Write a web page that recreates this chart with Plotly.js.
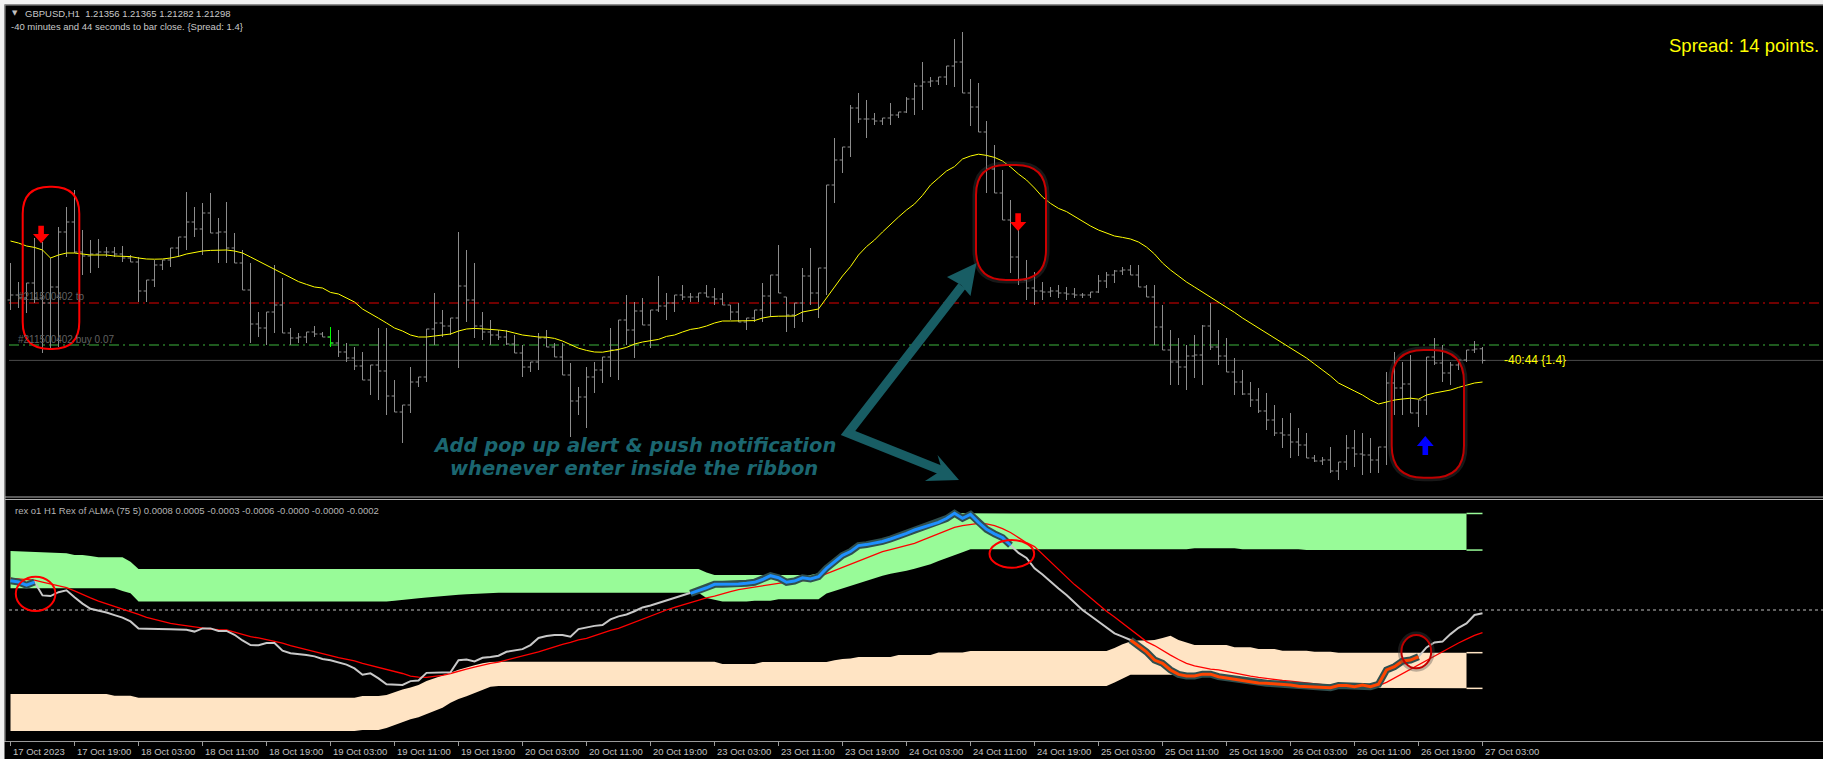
<!DOCTYPE html>
<html><head><meta charset="utf-8">
<script src="https://cdn.plot.ly/plotly-3.0.1.min.js"></script>
<style>html,body{margin:0;padding:0;background:#000;overflow:hidden}#chart{width:1823px;height:759px}</style>
</head><body><div id="chart"></div>
<script>
// ---------------- DATA (GBPUSD H1, 17 Oct 11:00 -> 27 Oct 03:00) ----------------
const open = [
1.2160,1.21625,1.2161,1.21685,1.2161,1.21585,1.21665,1.2194,1.2199,1.2184,
1.2182,1.2183,1.2184,1.2184,1.2183,1.2181,1.2179,1.21645,1.2170,1.21775,
1.2180,1.2186,1.21915,1.2199,1.21955,1.22035,1.21935,1.2194,1.2186,1.21785,
1.2165,1.2148,1.2146,1.2154,1.21575,1.21435,1.2141,1.21415,1.2144,1.2143,
1.21415,1.21385,1.2134,1.2131,1.2127,1.2120,1.21275,1.21245,1.2112,1.2104,
1.21075,1.2119,1.21215,1.21455,1.21485,1.2147,1.2151,1.2167,1.2160,1.2147,
1.2144,1.21425,1.21415,1.2138,1.21335,1.21265,1.2129,1.2141,1.21365,1.21315,
1.21225,1.21095,1.21115,1.21215,1.2125,1.21315,1.2135,1.2150,1.2145,1.21545,
1.21475,1.2155,1.2157,1.21585,1.21625,1.21615,1.21615,1.21635,1.21615,1.21605,
1.21575,1.2154,1.2149,1.2151,1.2155,1.2162,1.21725,1.21615,1.21525,1.21585,
1.2172,1.21635,1.2176,1.22175,1.2230,1.22365,1.2256,1.22505,1.22505,1.22495,
1.2251,1.22525,1.2254,1.22605,1.2267,1.2269,1.22695,1.22715,1.2277,1.2279,
1.22635,1.22565,1.2244,1.22255,1.22135,1.2200,1.21815,1.2170,1.2166,1.21645,
1.2164,1.21645,1.21635,1.2163,1.21625,1.21625,1.2164,1.21695,1.21725,1.21745,
1.2175,1.21725,1.21665,1.21615,1.21465,1.2135,1.2129,1.21265,1.2132,1.21325,
1.2147,1.21365,1.2132,1.2124,1.2119,1.2113,1.2110,1.21045,1.2100,1.20935,
1.20925,1.2089,1.20875,1.2081,1.20795,1.2080,1.20745,1.2079,1.2086,1.2083,
1.20825,1.2080,1.20865,1.21185,1.2116,1.2118,1.21035,1.2110,1.21315,1.21285,
1.21235,1.21275,1.2130,1.2135,1.21356];
const high = [
1.21785,1.2169,1.21685,1.2191,1.2189,1.2181,1.21965,1.22065,1.2215,1.2195,
1.2190,1.21905,1.21865,1.21865,1.2187,1.21825,1.21815,1.2170,1.2180,1.2180,
1.2186,1.21915,1.2214,1.22065,1.22085,1.22135,1.2201,1.2209,1.21935,1.2185,
1.21785,1.2154,1.2154,1.21775,1.2171,1.2146,1.21435,1.2144,1.2147,1.2144,
1.21465,1.2145,1.21385,1.21365,1.2134,1.21275,1.2146,1.2146,1.2120,1.21075,
1.21265,1.21215,1.21455,1.21635,1.2155,1.2151,1.2194,1.2185,1.21785,1.2154,
1.2150,1.2145,1.2145,1.21425,1.21375,1.2129,1.21435,1.2145,1.21385,1.21385,
1.21285,1.21165,1.21265,1.2129,1.21315,1.2146,1.2150,1.21625,1.2159,1.2161,
1.2155,1.2172,1.21635,1.21625,1.21675,1.21635,1.21635,1.21675,1.2166,1.21635,
1.21575,1.21585,1.2151,1.2155,1.21685,1.21725,1.21875,1.21615,1.21585,1.2176,
1.2186,1.2176,1.22175,1.2241,1.22365,1.22575,1.22635,1.2260,1.22535,1.2251,
1.22585,1.2254,1.22615,1.22685,1.2279,1.22715,1.22715,1.2277,1.22905,1.2294,
1.22705,1.22685,1.22495,1.22375,1.2225,1.2210,1.2195,1.2180,1.2174,1.2169,
1.21665,1.21675,1.21665,1.2166,1.21635,1.2164,1.21725,1.2174,1.2175,1.21765,
1.21775,1.21775,1.21675,1.21675,1.21575,1.2145,1.2141,1.21375,1.21425,1.21475,
1.21585,1.2145,1.2141,1.2131,1.2125,1.2119,1.2116,1.21135,1.21075,1.2101,
1.21035,1.2096,1.20935,1.20825,1.20815,1.20865,1.2079,1.20925,1.2095,1.20935,
1.2091,1.20865,1.2124,1.2134,1.2129,1.21325,1.2110,1.21315,1.2141,1.21375,
1.2129,1.2130,1.2135,1.21395,1.21365];
const low = [
1.2155,1.2156,1.21535,1.21585,1.21335,1.2136,1.21365,1.21815,1.21835,1.21725,
1.21735,1.2176,1.21815,1.21815,1.2179,1.2179,1.2159,1.2159,1.21665,1.2175,
1.21765,1.21815,1.2185,1.21915,1.21825,1.21935,1.21785,1.21785,1.21785,1.2165,
1.21385,1.21415,1.21375,1.21435,1.21435,1.21375,1.21385,1.21385,1.21415,1.21415,
1.21365,1.21315,1.2129,1.2125,1.2120,1.21125,1.2110,1.21025,1.2104,1.20885,
1.21035,1.21165,1.2119,1.21375,1.21415,1.21425,1.2126,1.2149,1.2141,1.2140,
1.21375,1.2140,1.21375,1.21335,1.21215,1.2124,1.2125,1.21365,1.21315,1.21225,
1.20915,1.21025,1.2096,1.21135,1.21185,1.21215,1.2120,1.21375,1.2131,1.21475,
1.2136,1.2154,1.2150,1.2154,1.2160,1.2159,1.2159,1.21615,1.21575,1.21575,
1.2150,1.2149,1.2145,1.2149,1.2149,1.21515,1.21635,1.2144,1.2146,1.2149,
1.21575,1.2151,1.21625,1.22085,1.22235,1.22315,1.22485,1.2241,1.22475,1.22475,
1.22475,1.2251,1.22535,1.22525,1.2255,1.22665,1.22675,1.22675,1.22665,1.22635,
1.2247,1.2244,1.22135,1.22135,1.2200,1.21735,1.21675,1.2160,1.21575,1.2160,
1.21615,1.2161,1.2160,1.2161,1.2161,1.2161,1.21635,1.2166,1.21685,1.21725,
1.21725,1.21665,1.21615,1.21375,1.2135,1.21175,1.21175,1.2115,1.2121,1.21175,
1.2135,1.21275,1.2124,1.21125,1.21125,1.21065,1.21035,1.2095,1.2092,1.2086,
1.2081,1.2082,1.2081,1.2079,1.20775,1.20735,1.2070,1.2075,1.20765,1.20725,
1.20735,1.20735,1.20775,1.21025,1.21025,1.21035,1.20965,1.21025,1.21275,1.2119,
1.21175,1.2125,1.2129,1.21335,1.21282];
const close = [
1.21625,1.2161,1.21685,1.2161,1.21585,1.21665,1.2194,1.2199,1.2184,1.2182,
1.2183,1.2184,1.2184,1.2183,1.2181,1.2179,1.21645,1.2170,1.21775,1.2180,
1.2186,1.21915,1.2199,1.21955,1.22035,1.21935,1.2194,1.2186,1.21785,1.2165,
1.2148,1.2146,1.2154,1.21575,1.21435,1.2141,1.21415,1.2144,1.2143,1.21415,
1.21385,1.2134,1.2131,1.2127,1.2120,1.21275,1.21245,1.2112,1.2104,1.21075,
1.2119,1.21215,1.21455,1.21485,1.2147,1.2151,1.2167,1.2160,1.2147,1.2144,
1.21425,1.21415,1.2138,1.21335,1.21265,1.2129,1.2141,1.21365,1.21315,1.21225,
1.21095,1.21115,1.21215,1.2125,1.21315,1.2135,1.2150,1.2145,1.21545,1.21475,
1.2155,1.2157,1.21585,1.21625,1.21615,1.21615,1.21635,1.21615,1.21605,1.21575,
1.2154,1.2149,1.2151,1.2155,1.2162,1.21725,1.21635,1.21525,1.21585,1.2172,
1.21635,1.2176,1.22175,1.2230,1.22365,1.2256,1.22505,1.22505,1.22495,1.2251,
1.22525,1.2254,1.22605,1.2267,1.2269,1.22695,1.22715,1.2277,1.2279,1.22635,
1.22565,1.2244,1.22255,1.22135,1.2200,1.21815,1.2170,1.2166,1.21645,1.2164,
1.21645,1.21635,1.2163,1.21625,1.21625,1.2164,1.21695,1.21725,1.21745,1.2175,
1.21725,1.21665,1.21615,1.21465,1.2135,1.2129,1.21265,1.2132,1.21325,1.2147,
1.21365,1.2132,1.2124,1.2119,1.2113,1.2110,1.21045,1.2100,1.20935,1.20925,
1.2089,1.20875,1.2081,1.20795,1.2080,1.20745,1.2079,1.2086,1.2083,1.20825,
1.2080,1.20865,1.21185,1.2116,1.2118,1.21035,1.2110,1.21315,1.21285,1.21235,
1.21275,1.2130,1.2135,1.21355,1.21298];
// moving average (yellow)
const maLine = [
1.21895,1.21885,1.2187,1.21863,1.2185,1.2181,1.21825,1.21835,1.21835,1.2183,
1.21825,1.21825,1.21825,1.2182,1.2182,1.21817,1.2181,1.21805,1.21804,1.21805,
1.2181,1.21818,1.2183,1.21838,1.21845,1.21848,1.2185,1.2185,1.21845,1.21835,
1.21815,1.21795,1.21775,1.21755,1.21735,1.21713,1.21692,1.21678,1.21665,1.2166,
1.21638,1.2163,1.2161,1.2159,1.21555,1.2153,1.21509,1.21485,1.2146,1.21445,
1.21425,1.21415,1.21415,1.2142,1.21425,1.2143,1.21445,1.21455,1.21458,1.21457,
1.21453,1.2145,1.21445,1.21435,1.21425,1.2142,1.21415,1.21414,1.21408,1.21395,
1.21378,1.21359,1.21348,1.2134,1.21339,1.21345,1.21353,1.21363,1.2138,1.2139,
1.21395,1.21403,1.21418,1.21425,1.2144,1.21453,1.21459,1.2147,1.21485,1.21495,
1.21495,1.21496,1.21497,1.21497,1.2151,1.21517,1.21519,1.21519,1.2152,1.2154,
1.21548,1.21555,1.2161,1.21665,1.2172,1.21767,1.21825,1.21867,1.2190,1.2194,
1.2198,1.22015,1.2205,1.2208,1.22123,1.22175,1.2221,1.22245,1.22267,1.22305,
1.2232,1.22329,1.22323,1.22313,1.22295,1.22265,1.2223,1.2220,1.2216,1.22115,
1.22083,1.22058,1.22042,1.22018,1.21993,1.2197,1.2195,1.21935,1.2192,1.21913,
1.21905,1.2189,1.21865,1.2183,1.21785,1.2175,1.2172,1.2169,1.21665,1.2164,
1.21615,1.2159,1.21565,1.21538,1.2151,1.21485,1.2146,1.21435,1.2141,1.21385,
1.2136,1.21335,1.2131,1.2128,1.2125,1.2122,1.21185,1.21163,1.21145,1.21125,
1.2110,1.2108,1.2109,1.2110,1.21105,1.21109,1.21104,1.21125,1.21135,1.21143,
1.2115,1.21163,1.21175,1.21185,1.2119];
const tpLevel = 1.21585, buyLevel = 1.21375;
const markedBar = 40; // bar drawn in lime

// Rex of ALMA oscillator
const rexMain = [
2.3e-4,2.2e-4,1.95e-4,2.2e-4,1.15e-4,1.1e-4,1.4e-4,1.55e-4,1.0e-4,0.5e-4,
0.1e-4,-0.03e-4,-0.2e-4,-0.4e-4,-0.6e-4,-0.9e-4,-1.45e-4,-1.47e-4,-1.5e-4,-1.5e-4,
-1.52e-4,-1.53e-4,-1.55e-4,-1.7e-4,-1.45e-4,-1.45e-4,-1.65e-4,-1.65e-4,-1.95e-4,-2.4e-4,
-2.76e-4,-2.78e-4,-2.6e-4,-2.6e-4,-3.2e-4,-3.4e-4,-3.45e-4,-3.55e-4,-3.65e-4,-3.86e-4,
-3.95e-4,-4.1e-4,-4.3e-4,-4.6e-4,-5.1e-4,-4.99e-4,-5.38e-4,-5.85e-4,-5.9e-4,-5.9e-4,
-5.6e-4,-5.55e-4,-4.95e-4,-4.94e-4,-4.93e-4,-4.9e-4,-3.95e-4,-3.9e-4,-4.05e-4,-3.76e-4,
-3.7e-4,-3.6e-4,-3.29e-4,-3.18e-4,-3.08e-4,-2.76e-4,-2.2e-4,-2.05e-4,-1.97e-4,-1.97e-4,
-2.1e-4,-1.5e-4,-1.35e-4,-1.25e-4,-1.18e-4,-0.74e-4,-0.5e-4,-0.35e-4,-0.1e-4,0.2e-4,
0.35e-4,0.55e-4,0.7e-4,0.92e-4,1.1e-4,1.31e-4,1.5e-4,1.75e-4,2.02e-4,2.02e-4,
2.02e-4,2.05e-4,2.1e-4,2.18e-4,2.4e-4,2.7e-4,2.54e-4,2.18e-4,2.28e-4,2.54e-4,
2.44e-4,2.62e-4,3.28e-4,3.8e-4,4.3e-4,4.6e-4,5.07e-4,5.15e-4,5.25e-4,5.4e-4,
5.59e-4,5.8e-4,6.04e-4,6.3e-4,6.5e-4,6.69e-4,6.9e-4,7.2e-4,7.61e-4,7.22e-4,
7.53e-4,6.9e-4,6.35e-4,6.0e-4,5.7e-4,5.1e-4,4.5e-4,4.1e-4,3.28e-4,2.8e-4,
2.23e-4,1.7e-4,1.18e-4,0.6e-4,0.0e-4,-0.45e-4,-0.92e-4,-1.4e-4,-1.84e-4,-2.1e-4,
-2.36e-4,-2.8e-4,-3.3e-4,-3.94e-4,-4.2e-4,-4.72e-4,-5.07e-4,-5.2e-4,-5.2e-4,-5.05e-4,
-5.05e-4,-5.25e-4,-5.35e-4,-5.5e-4,-5.55e-4,-5.65e-4,-5.75e-4,-5.77e-4,-5.8e-4,-5.85e-4,
-5.9e-4,-6.0e-4,-6.04e-4,-6.08e-4,-6.12e-4,-6.12e-4,-5.95e-4,-5.95e-4,-6.04e-4,-5.91e-4,
-6.04e-4,-5.85e-4,-4.72e-4,-4.46e-4,-4.02e-4,-3.94e-4,-3.68e-4,-2.95e-4,-2.55e-4,-2.49e-4,
-1.9e-4,-1.4e-4,-1.05e-4,-0.39e-4,-0.26e-4];
const rexSignal = [
2.49e-4,2.45e-4,2.4e-4,2.36e-4,2.2e-4,2.05e-4,1.9e-4,1.76e-4,1.5e-4,1.2e-4,
0.95e-4,0.7e-4,0.5e-4,0.3e-4,0.1e-4,-0.13e-4,-0.35e-4,-0.58e-4,-0.75e-4,-0.9e-4,
-1.05e-4,-1.15e-4,-1.25e-4,-1.35e-4,-1.42e-4,-1.5e-4,-1.55e-4,-1.57e-4,-1.75e-4,-1.95e-4,
-2.1e-4,-2.2e-4,-2.33e-4,-2.44e-4,-2.6e-4,-2.8e-4,-2.97e-4,-3.15e-4,-3.3e-4,-3.45e-4,
-3.6e-4,-3.75e-4,-3.86e-4,-4.0e-4,-4.2e-4,-4.35e-4,-4.5e-4,-4.7e-4,-4.86e-4,-5.0e-4,
-5.2e-4,-5.28e-4,-5.3e-4,-5.25e-4,-5.15e-4,-5.0e-4,-4.8e-4,-4.65e-4,-4.5e-4,-4.33e-4,
-4.2e-4,-4.1e-4,-3.94e-4,-3.8e-4,-3.65e-4,-3.49e-4,-3.3e-4,-3.1e-4,-2.89e-4,-2.7e-4,
-2.55e-4,-2.35e-4,-2.23e-4,-2.0e-4,-1.78e-4,-1.6e-4,-1.45e-4,-1.2e-4,-0.95e-4,-0.7e-4,
-0.5e-4,-0.25e-4,0.0e-4,0.2e-4,0.4e-4,0.6e-4,0.8e-4,0.95e-4,1.1e-4,1.3e-4,
1.45e-4,1.6e-4,1.7e-4,1.85e-4,1.95e-4,2.02e-4,2.1e-4,2.2e-4,2.28e-4,2.32e-4,
2.36e-4,2.6e-4,2.85e-4,3.07e-4,3.3e-4,3.55e-4,3.81e-4,4.1e-4,4.35e-4,4.59e-4,
4.75e-4,4.9e-4,5.1e-4,5.25e-4,5.5e-4,5.75e-4,6.04e-4,6.25e-4,6.5e-4,6.65e-4,
6.75e-4,6.82e-4,6.78e-4,6.64e-4,6.4e-4,6.1e-4,5.7e-4,5.3e-4,4.99e-4,4.4e-4,
3.8e-4,3.2e-4,2.6e-4,2.0e-4,1.5e-4,0.95e-4,0.39e-4,-0.1e-4,-0.55e-4,-1.05e-4,
-1.55e-4,-2.0e-4,-2.49e-4,-2.8e-4,-3.2e-4,-3.55e-4,-3.9e-4,-4.2e-4,-4.4e-4,-4.55e-4,
-4.65e-4,-4.72e-4,-4.85e-4,-4.99e-4,-5.1e-4,-5.2e-4,-5.3e-4,-5.4e-4,-5.5e-4,-5.55e-4,
-5.6e-4,-5.68e-4,-5.75e-4,-5.82e-4,-5.88e-4,-5.92e-4,-5.96e-4,-6.0e-4,-6.03e-4,-6.04e-4,
-6.04e-4,-5.95e-4,-5.7e-4,-5.35e-4,-5.0e-4,-4.7e-4,-4.35e-4,-4.0e-4,-3.65e-4,-3.3e-4,
-2.95e-4,-2.6e-4,-2.3e-4,-2.0e-4,-1.78e-4];
const greenTop = [
4.65e-4,4.63e-4,4.61e-4,4.59e-4,4.57e-4,4.55e-4,4.52e-4,4.47e-4,4.33e-4,4.33e-4,
4.25e-4,4.15e-4,4.15e-4,4.15e-4,4.15e-4,3.8e-4,3.23e-4,3.23e-4,3.23e-4,3.23e-4,
3.23e-4,3.23e-4,3.23e-4,3.23e-4,3.23e-4,3.23e-4,3.23e-4,3.23e-4,3.23e-4,3.23e-4,
3.23e-4,3.23e-4,3.23e-4,3.23e-4,3.23e-4,3.23e-4,3.23e-4,3.23e-4,3.23e-4,3.23e-4,
3.23e-4,3.23e-4,3.23e-4,3.23e-4,3.23e-4,3.23e-4,3.23e-4,3.23e-4,3.23e-4,3.23e-4,
3.23e-4,3.23e-4,3.23e-4,3.23e-4,3.23e-4,3.23e-4,3.23e-4,3.23e-4,3.23e-4,3.23e-4,
3.23e-4,3.23e-4,3.23e-4,3.23e-4,3.23e-4,3.23e-4,3.23e-4,3.23e-4,3.23e-4,3.23e-4,
3.23e-4,3.23e-4,3.23e-4,3.23e-4,3.23e-4,3.23e-4,3.23e-4,3.23e-4,3.23e-4,3.23e-4,
3.23e-4,3.23e-4,3.23e-4,3.23e-4,3.23e-4,3.23e-4,3.23e-4,2.95e-4,2.76e-4,2.76e-4,
2.76e-4,2.76e-4,2.76e-4,2.76e-4,2.76e-4,2.76e-4,2.76e-4,2.76e-4,2.76e-4,2.76e-4,
2.76e-4,2.9e-4,3.3e-4,3.8e-4,4.3e-4,4.6e-4,5.07e-4,5.15e-4,5.25e-4,5.4e-4,
5.59e-4,5.8e-4,6.04e-4,6.3e-4,6.5e-4,6.69e-4,6.9e-4,7.2e-4,7.61e-4,7.61e-4,
7.6e-4,7.6e-4,7.6e-4,7.6e-4,7.6e-4,7.6e-4,7.6e-4,7.6e-4,7.6e-4,7.6e-4,
7.6e-4,7.6e-4,7.6e-4,7.6e-4,7.6e-4,7.6e-4,7.6e-4,7.6e-4,7.6e-4,7.6e-4,
7.6e-4,7.6e-4,7.6e-4,7.6e-4,7.6e-4,7.6e-4,7.6e-4,7.6e-4,7.6e-4,7.6e-4,
7.6e-4,7.6e-4,7.6e-4,7.6e-4,7.6e-4,7.6e-4,7.6e-4,7.6e-4,7.6e-4,7.6e-4,
7.6e-4,7.6e-4,7.6e-4,7.6e-4,7.6e-4,7.6e-4,7.6e-4,7.6e-4,7.6e-4,7.6e-4,
7.6e-4,7.6e-4,7.6e-4,7.6e-4,7.6e-4,7.6e-4,7.6e-4,7.6e-4,7.6e-4,7.6e-4,
7.6e-4,7.6e-4,7.6e-4,7.6e-4,7.6e-4];
const greenBot = [
1.71e-4,1.71e-4,1.71e-4,1.71e-4,1.71e-4,1.71e-4,1.71e-4,1.71e-4,1.71e-4,1.71e-4,
1.71e-4,1.71e-4,1.71e-4,1.71e-4,1.5e-4,1.31e-4,0.66e-4,0.66e-4,0.66e-4,0.66e-4,
0.66e-4,0.66e-4,0.66e-4,0.66e-4,0.66e-4,0.66e-4,0.66e-4,0.66e-4,0.66e-4,0.66e-4,
0.66e-4,0.66e-4,0.66e-4,0.66e-4,0.66e-4,0.66e-4,0.66e-4,0.66e-4,0.66e-4,0.66e-4,
0.66e-4,0.66e-4,0.66e-4,0.66e-4,0.66e-4,0.66e-4,0.66e-4,0.66e-4,0.72e-4,0.8e-4,
0.85e-4,0.92e-4,0.98e-4,1.05e-4,1.1e-4,1.15e-4,1.2e-4,1.25e-4,1.28e-4,1.31e-4,
1.35e-4,1.35e-4,1.35e-4,1.35e-4,1.35e-4,1.35e-4,1.35e-4,1.35e-4,1.35e-4,1.35e-4,
1.35e-4,1.35e-4,1.35e-4,1.35e-4,1.35e-4,1.35e-4,1.35e-4,1.35e-4,1.35e-4,1.35e-4,
1.35e-4,1.35e-4,1.35e-4,1.35e-4,1.35e-4,1.35e-4,1.35e-4,0.95e-4,0.79e-4,0.66e-4,
0.66e-4,0.66e-4,0.66e-4,0.72e-4,0.72e-4,0.72e-4,0.84e-4,0.84e-4,0.84e-4,0.84e-4,
0.84e-4,0.84e-4,1.3e-4,1.5e-4,1.7e-4,1.95e-4,2.15e-4,2.35e-4,2.55e-4,2.7e-4,
2.85e-4,2.95e-4,3.1e-4,3.25e-4,3.4e-4,3.6e-4,3.85e-4,4.1e-4,4.33e-4,4.55e-4,
4.78e-4,4.78e-4,4.78e-4,4.78e-4,4.78e-4,4.78e-4,4.78e-4,4.78e-4,4.78e-4,4.78e-4,
4.78e-4,4.78e-4,4.78e-4,4.78e-4,4.78e-4,4.78e-4,4.78e-4,4.78e-4,4.78e-4,4.78e-4,
4.78e-4,4.78e-4,4.78e-4,4.78e-4,4.78e-4,4.78e-4,4.78e-4,4.78e-4,4.86e-4,4.86e-4,
4.86e-4,4.86e-4,4.86e-4,4.86e-4,4.78e-4,4.78e-4,4.78e-4,4.78e-4,4.78e-4,4.78e-4,
4.78e-4,4.78e-4,4.72e-4,4.72e-4,4.72e-4,4.72e-4,4.72e-4,4.72e-4,4.72e-4,4.72e-4,
4.72e-4,4.72e-4,4.72e-4,4.72e-4,4.72e-4,4.72e-4,4.72e-4,4.72e-4,4.72e-4,4.72e-4,
4.72e-4,4.72e-4,4.72e-4,4.72e-4,4.72e-4];
const peachTop = [
-6.61e-4,-6.61e-4,-6.61e-4,-6.61e-4,-6.61e-4,-6.61e-4,-6.61e-4,-6.61e-4,-6.61e-4,-6.61e-4,
-6.61e-4,-6.61e-4,-6.61e-4,-6.75e-4,-6.75e-4,-6.75e-4,-6.9e-4,-6.9e-4,-6.9e-4,-6.9e-4,
-6.9e-4,-6.9e-4,-6.9e-4,-6.9e-4,-6.9e-4,-6.9e-4,-6.9e-4,-6.9e-4,-6.9e-4,-6.9e-4,
-6.9e-4,-6.9e-4,-6.9e-4,-6.9e-4,-6.9e-4,-6.9e-4,-6.9e-4,-6.9e-4,-6.9e-4,-6.9e-4,
-6.9e-4,-6.9e-4,-6.9e-4,-6.9e-4,-6.77e-4,-6.77e-4,-6.77e-4,-6.7e-4,-6.45e-4,-6.25e-4,
-6.1e-4,-5.9e-4,-5.6e-4,-5.4e-4,-5.15e-4,-4.95e-4,-4.7e-4,-4.5e-4,-4.35e-4,-4.2e-4,
-4.1e-4,-4.07e-4,-4.07e-4,-4.07e-4,-4.07e-4,-4.07e-4,-4.07e-4,-4.07e-4,-4.07e-4,-4.07e-4,
-4.07e-4,-4.07e-4,-4.07e-4,-4.07e-4,-4.07e-4,-4.07e-4,-4.07e-4,-4.07e-4,-4.07e-4,-4.07e-4,
-4.07e-4,-4.07e-4,-4.07e-4,-4.07e-4,-4.07e-4,-4.07e-4,-4.07e-4,-4.07e-4,-4.07e-4,-4.25e-4,
-4.25e-4,-4.25e-4,-4.25e-4,-4.25e-4,-4.1e-4,-4.1e-4,-4.1e-4,-4.1e-4,-4.1e-4,-4.1e-4,
-4.1e-4,-4.1e-4,-4.1e-4,-3.95e-4,-3.85e-4,-3.81e-4,-3.7e-4,-3.7e-4,-3.7e-4,-3.7e-4,
-3.7e-4,-3.55e-4,-3.55e-4,-3.55e-4,-3.55e-4,-3.55e-4,-3.35e-4,-3.35e-4,-3.35e-4,-3.35e-4,
-3.23e-4,-3.23e-4,-3.23e-4,-3.23e-4,-3.23e-4,-3.23e-4,-3.23e-4,-3.23e-4,-3.23e-4,-3.23e-4,
-3.23e-4,-3.23e-4,-3.23e-4,-3.23e-4,-3.23e-4,-3.23e-4,-3.23e-4,-3.23e-4,-3.0e-4,-2.7e-4,
-2.49e-4,-2.4e-4,-2.4e-4,-2.36e-4,-2.2e-4,-2.02e-4,-2.36e-4,-2.55e-4,-2.76e-4,-2.76e-4,
-2.76e-4,-2.76e-4,-2.76e-4,-2.94e-4,-2.94e-4,-2.94e-4,-3.07e-4,-3.07e-4,-3.07e-4,-3.2e-4,
-3.2e-4,-3.2e-4,-3.2e-4,-3.28e-4,-3.28e-4,-3.28e-4,-3.36e-4,-3.36e-4,-3.36e-4,-3.36e-4,
-3.36e-4,-3.36e-4,-3.36e-4,-3.36e-4,-3.36e-4,-3.36e-4,-3.36e-4,-3.36e-4,-3.36e-4,-3.36e-4,
-3.36e-4,-3.36e-4,-3.36e-4,-3.36e-4,-3.36e-4];
const peachBot = [
-9.53e-4,-9.53e-4,-9.53e-4,-9.53e-4,-9.53e-4,-9.53e-4,-9.53e-4,-9.53e-4,-9.53e-4,-9.53e-4,
-9.53e-4,-9.53e-4,-9.53e-4,-9.53e-4,-9.53e-4,-9.53e-4,-9.53e-4,-9.53e-4,-9.53e-4,-9.53e-4,
-9.53e-4,-9.53e-4,-9.53e-4,-9.53e-4,-9.53e-4,-9.53e-4,-9.53e-4,-9.53e-4,-9.53e-4,-9.53e-4,
-9.53e-4,-9.53e-4,-9.53e-4,-9.53e-4,-9.53e-4,-9.53e-4,-9.53e-4,-9.53e-4,-9.53e-4,-9.53e-4,
-9.53e-4,-9.53e-4,-9.53e-4,-9.53e-4,-9.45e-4,-9.45e-4,-9.45e-4,-9.3e-4,-9.05e-4,-8.8e-4,
-8.6e-4,-8.45e-4,-8.2e-4,-7.97e-4,-7.7e-4,-7.3e-4,-7.0e-4,-6.8e-4,-6.55e-4,-6.3e-4,
-6.05e-4,-5.99e-4,-5.99e-4,-5.99e-4,-5.99e-4,-5.99e-4,-5.99e-4,-5.99e-4,-5.99e-4,-5.99e-4,
-5.99e-4,-5.99e-4,-5.99e-4,-5.99e-4,-5.99e-4,-5.99e-4,-5.99e-4,-5.99e-4,-5.99e-4,-5.99e-4,
-5.99e-4,-5.99e-4,-5.99e-4,-5.99e-4,-5.99e-4,-5.99e-4,-5.99e-4,-5.99e-4,-5.99e-4,-5.99e-4,
-5.99e-4,-5.99e-4,-5.99e-4,-5.99e-4,-5.99e-4,-5.99e-4,-5.99e-4,-5.99e-4,-5.99e-4,-5.99e-4,
-5.99e-4,-5.99e-4,-5.99e-4,-5.99e-4,-5.99e-4,-5.99e-4,-5.99e-4,-5.99e-4,-5.99e-4,-5.99e-4,
-5.99e-4,-5.99e-4,-5.99e-4,-5.99e-4,-5.99e-4,-5.99e-4,-5.99e-4,-5.99e-4,-5.99e-4,-5.99e-4,
-5.99e-4,-5.99e-4,-5.99e-4,-5.99e-4,-5.99e-4,-5.99e-4,-5.99e-4,-5.99e-4,-5.99e-4,-5.99e-4,
-5.99e-4,-5.99e-4,-5.99e-4,-5.99e-4,-5.99e-4,-5.99e-4,-5.99e-4,-5.99e-4,-5.7e-4,-5.4e-4,
-5.1e-4,-5.1e-4,-5.1e-4,-5.1e-4,-5.1e-4,-5.1e-4,-5.1e-4,-5.2e-4,-5.2e-4,-5.05e-4,
-5.05e-4,-5.25e-4,-5.35e-4,-5.5e-4,-5.55e-4,-5.65e-4,-5.75e-4,-5.77e-4,-5.8e-4,-5.85e-4,
-5.9e-4,-6.0e-4,-6.04e-4,-6.08e-4,-6.12e-4,-6.12e-4,-6.12e-4,-6.12e-4,-6.12e-4,-6.12e-4,
-6.12e-4,-6.15e-4,-6.17e-4,-6.17e-4,-6.17e-4,-6.17e-4,-6.17e-4,-6.17e-4,-6.17e-4,-6.17e-4,
-6.17e-4,-6.17e-4,-6.17e-4,-6.17e-4,-6.17e-4];
const blueSegments = [[0,3],[85,125]];     // line inside upper ribbon
const orangeSegments = [[140,176]];        // line inside lower ribbon
const ribbonFilledTo = 182;                // last filled bar of the ribbons

const tickLabels = ['17 Oct 2023','17 Oct 19:00','18 Oct 03:00','18 Oct 11:00','18 Oct 19:00','19 Oct 03:00',
 '19 Oct 11:00','19 Oct 19:00','20 Oct 03:00','20 Oct 11:00','20 Oct 19:00','23 Oct 03:00','23 Oct 11:00',
 '23 Oct 19:00','24 Oct 03:00','24 Oct 11:00','24 Oct 19:00','25 Oct 03:00','25 Oct 11:00','25 Oct 19:00',
 '26 Oct 03:00','26 Oct 11:00','26 Oct 19:00','27 Oct 03:00'];
const barsPerTick = 8;

// ---------------- DRAWING ----------------
const W = 1823, H = 759;
const idx = open.map((_, i) => i);
const PX = x => x / W, PY = y => 1 - y / H;
const f = (x, y) => PX(x).toFixed(5) + ',' + PY(y).toFixed(5);
const poly = pts => pts.map((p, k) => (k ? 'L' : 'M') + f(p[0], p[1])).join(' ') + ' Z';
const rrect = (x0, y0, x1, y1, r) => `M${f(x0+r,y0)} L${f(x1-r,y0)} Q${f(x1,y0)} ${f(x1,y0+r)} L${f(x1,y1-r)} Q${f(x1,y1)} ${f(x1-r,y1)} L${f(x0+r,y1)} Q${f(x0,y1)} ${f(x0,y1-r)} L${f(x0,y0+r)} Q${f(x0,y0)} ${f(x0+r,y0)} Z`;
const segMask = (arr, segs) => arr.map((v, i) => segs.some(s => i >= s[0] && i <= s[1]) ? v : null);
const FONT = 'Liberation Sans, Arial, sans-serif';
const barColor = '#8c8c8c';

const traces = [];
// upper panel
traces.push({type:'ohlc', x: idx, open, high, low, close, xaxis:'x', yaxis:'y', tickwidth:0.36,
  increasing:{line:{color:barColor,width:1}}, decreasing:{line:{color:barColor,width:1}}, hoverinfo:'skip'});
traces.push({type:'ohlc', x:[idx[markedBar]], open:[open[markedBar]], high:[high[markedBar]], low:[low[markedBar]], close:[close[markedBar]],
  xaxis:'x', yaxis:'y', tickwidth:0.36, increasing:{line:{color:'#00ff00',width:1}}, decreasing:{line:{color:'#00ff00',width:1}}, hoverinfo:'skip'});
traces.push({type:'scatter', mode:'lines', x: idx, y: maLine, xaxis:'x', yaxis:'y', line:{color:'#ffff00', width:1}, hoverinfo:'skip'});

// lower panel ribbons
const nf = ribbonFilledTo + 1;
const lower = (o) => Object.assign({type:'scatter', mode:'lines', xaxis:'x', yaxis:'y2', hoverinfo:'skip'}, o);
traces.push(lower({x: idx.slice(0,nf), y: greenBot.slice(0,nf), line:{width:0, color:'#98fb98'}}));
traces.push(lower({x: idx.slice(0,nf), y: greenTop.slice(0,nf), line:{width:0, color:'#98fb98'}, fill:'tonexty', fillcolor:'#98fb98'}));
traces.push(lower({x: idx.slice(ribbonFilledTo), y: greenTop.slice(ribbonFilledTo), line:{width:1.5, color:'#98fb98'}}));
traces.push(lower({x: idx.slice(ribbonFilledTo), y: greenBot.slice(ribbonFilledTo), line:{width:1.5, color:'#98fb98'}}));
traces.push(lower({x: idx.slice(0,nf), y: peachBot.slice(0,nf), line:{width:0, color:'#ffe4c4'}}));
traces.push(lower({x: idx.slice(0,nf), y: peachTop.slice(0,nf), line:{width:0, color:'#ffe4c4'}, fill:'tonexty', fillcolor:'#ffe4c4'}));
traces.push(lower({x: idx.slice(ribbonFilledTo), y: peachTop.slice(ribbonFilledTo), line:{width:1.5, color:'#ffe4c4'}}));
traces.push(lower({x: idx.slice(ribbonFilledTo), y: peachBot.slice(ribbonFilledTo), line:{width:1.5, color:'#ffe4c4'}}));
// lines
traces.push(lower({x: idx, y: rexSignal, line:{width:1.3, color:'#ff0000'}}));
traces.push(lower({x: idx, y: rexMain, line:{width:2, color:'#c8c8c8'}}));
const blueY = segMask(rexMain, blueSegments), orangeY = segMask(rexMain, orangeSegments);
traces.push(lower({x: idx, y: blueY, line:{width:7, color:'#2f4f4f'}, connectgaps:false}));
traces.push(lower({x: idx, y: blueY, line:{width:3, color:'#1e90ff'}, connectgaps:false}));
traces.push(lower({x: idx, y: orangeY, line:{width:7, color:'#2f4f4f'}, connectgaps:false}));
traces.push(lower({x: idx, y: orangeY, line:{width:3, color:'#ff4500'}, connectgaps:false}));

// shapes
const shapes = [];
// frame
shapes.push({type:'rect', xref:'paper', yref:'paper', x0:0, x1:1, y0:PY(0), y1:PY(4.5), fillcolor:'#f0f0f0', line:{width:0}, layer:'above'});
shapes.push({type:'rect', xref:'paper', yref:'paper', x0:0, x1:PX(4.5), y0:0, y1:1, fillcolor:'#f0f0f0', line:{width:0}, layer:'above'});
shapes.push({type:'line', xref:'paper', yref:'paper', x0:PX(4.5), x1:1, y0:PY(5), y1:PY(5), line:{color:'#a0a0a0', width:1}, layer:'above'});
shapes.push({type:'line', xref:'paper', yref:'paper', x0:PX(5), x1:PX(5), y0:PY(5), y1:PY(742), line:{color:'#a0a0a0', width:1}, layer:'above'});
shapes.push({type:'line', xref:'paper', yref:'paper', x0:PX(5), x1:1, y0:PY(497), y1:PY(497), line:{color:'#b0b0b0', width:1}, layer:'above'});
shapes.push({type:'line', xref:'paper', yref:'paper', x0:PX(5), x1:1, y0:PY(499.5), y1:PY(499.5), line:{color:'#b0b0b0', width:1}, layer:'above'});
// order levels and bid line
const lvl = (y, color, dash) => ({type:'line', xref:'paper', yref:'y', x0:PX(9), x1:1, y0:y, y1:y, line:{color, width:1, dash}, layer:'below'});
shapes.push(lvl(tpLevel, '#e00000', '10px,4px,2px,4px'));
shapes.push(lvl(buyLevel, '#3cb43c', '10px,4px,2px,4px'));
shapes.push(lvl(close[close.length-1], '#4a4a4a', 'solid'));
// zero line of oscillator
shapes.push({type:'line', xref:'paper', yref:'y2', x0:PX(9), x1:1, y0:0, y1:0, line:{color:'#c0c0c0', width:1, dash:'3px,3px'}, layer:'below'});
// rounded highlight boxes (upper panel)
const box = (x0,y0,x1,y1,r,color,glow) => {
  if (glow) shapes.push({type:'path', xref:'paper', yref:'paper', path: rrect(x0-2,y0-2,x1+2,y1+2,r+2), line:{color:'rgba(70,70,70,0.35)', width:3}, layer:'above'});
  shapes.push({type:'path', xref:'paper', yref:'paper', path: rrect(x0,y0,x1,y1,r), line:{color, width:2}, layer:'above'});
};
box(22.7,186.7,79.3,349,27,'#ff0000',false);
box(976,165,1046,280,30,'#cc0000',true);
box(1391.7,350,1464,477.7,32,'#c00000',true);
// signal arrows
shapes.push({type:'path', xref:'paper', yref:'paper', fillcolor:'#ff0000', line:{width:0}, layer:'above',
  path: poly([[38.3,225.7],[43.9,225.7],[43.9,234],[49.3,234],[41.1,243.3],[33,234],[38.3,234]])});
shapes.push({type:'path', xref:'paper', yref:'paper', fillcolor:'#ff0000', line:{width:0}, layer:'above',
  path: poly([[1015.3,213.3],[1020.9,213.3],[1020.9,222],[1026.3,222],[1018.1,231],[1010,222],[1015.3,222]])});
shapes.push({type:'path', xref:'paper', yref:'paper', fillcolor:'#0000ff', line:{width:0}, layer:'above',
  path: poly([[1422.5,455],[1428.1,455],[1428.1,446],[1433.7,446],[1425.3,436],[1416.9,446],[1422.5,446]])});
// teal callout arrow
const teal = '#185d64';
shapes.push({type:'path', xref:'paper', yref:'paper', layer:'above', line:{color:teal, width:9},
  path: `M${f(962,286)} L${f(848,433)} L${f(943,471)}`});
shapes.push({type:'path', xref:'paper', yref:'paper', fillcolor:teal, line:{width:0}, layer:'above',
  path: poly([[976.5,263],[970.5,296],[961,285],[947,277]])});
shapes.push({type:'path', xref:'paper', yref:'paper', fillcolor:teal, line:{width:0}, layer:'above',
  path: poly([[959,480],[925,481],[942,470],[937.5,455]])});
// lower-panel ellipses
const ell = (x0,y0,x1,y1,color,glow) => {
  if (glow) shapes.push({type:'circle', xref:'paper', yref:'paper', x0:PX(x0-2), x1:PX(x1+2), y0:PY(y0-2), y1:PY(y1+2), line:{color:'rgba(70,70,70,0.35)', width:3}, layer:'above'});
  shapes.push({type:'circle', xref:'paper', yref:'paper', x0:PX(x0), x1:PX(x1), y0:PY(y0), y1:PY(y1), line:{color, width:2}, layer:'above'});
};
ell(15.8,576.7,55.4,611,'#ff0000',false);
ell(989.5,540,1034.2,567.7,'#ff0000',false);
ell(1401.4,635,1431.2,668.3,'#c00000',true);

// annotations
const ann = [];
const txt = (x, y, text, size, color, extra) => ann.push(Object.assign({xref:'paper', yref:'paper', x:PX(x), y:PY(y), text,
  showarrow:false, xanchor:'left', yanchor:'middle', borderpad:0, font:{family:FONT, size, color}}, extra||{}));
const last = open.length - 1;
txt(11, 12.5, '▼', 7, '#c0c0c0', {font:{family:'DejaVu Sans', size:7, color:'#c0c0c0'}});
txt(23.5, 13.3, `GBPUSD,H1\u00a0\u00a0${open[last].toFixed(5)} ${high[last].toFixed(5)} ${low[last].toFixed(5)} ${close[last].toFixed(5)}`, 9.5, '#c8c8c8');
txt(10, 26.7, '-40 minutes and 44 seconds to bar close. {Spread: 1.4}', 9.5, '#c8c8c8');
txt(1668, 46, 'Spread: 14 points.', 18.5, '#ffff00');
txt(16.5, 297, '#211500402 tp', 10, '#606060');
txt(16.5, 340, '#211500402 buy 0.07', 10, '#606060');
txt(1503, 360, '-40:44 {1.4}', 12, '#ffff00');
txt(13.5, 510, 'rex o1 H1 Rex of ALMA (75 5) 0.0008 0.0005 -0.0003 -0.0006 -0.0000 -0.0000 -0.0002', 9.5, '#b4b4b4');
ann.push({xref:'paper', yref:'paper', x:PX(634), y:PY(445), text:'<b><i>Add pop up alert &amp; push notification</i></b>', showarrow:false,
  xanchor:'center', yanchor:'middle', font:{family:'DejaVu Sans', size:19.5, color:'#1b6670'}});
ann.push({xref:'paper', yref:'paper', x:PX(634), y:PY(468.5), text:'<b><i>whenever enter inside the ribbon</i></b>', showarrow:false,
  xanchor:'center', yanchor:'middle', font:{family:'DejaVu Sans', size:19.5, color:'#1b6670'}});
tickLabels.forEach((t, k) => ann.push({xref:'x', yref:'paper', x: k * barsPerTick, y: PY(751), text: t, showarrow:false,
  xanchor:'left', yanchor:'middle', xshift:1, borderpad:0, font:{family:FONT, size:9.5, color:'#c0c0c0'}}));

const layout = {
  width: W, height: H, margin:{l:0, r:0, t:0, b:0, pad:0},
  paper_bgcolor:'#000', plot_bgcolor:'#000', showlegend:false, dragmode:false,
  xaxis:{domain:[0,1], range:[-1.3125, 226.5625], anchor:'y2', showgrid:false, zeroline:false,
    tickmode:'array', tickvals: tickLabels.map((_, k) => k * barsPerTick), showticklabels:false,
    ticks:'outside', ticklen:4, tickcolor:'#9a9a9a', showline:true, linecolor:'#9a9a9a', linewidth:1,
    rangeslider:{visible:false}, fixedrange:true},
  yaxis:{domain:[1-496/H, 1-6/H], range:[1.2062, 1.2307], visible:false, showgrid:false, zeroline:false, fixedrange:true},
  yaxis2:{domain:[1-741/H, 1-500/H], range:[-131/127000, 110/127000], visible:false, showgrid:false, zeroline:false, fixedrange:true},
  shapes, annotations: ann
};
Plotly.newPlot('chart', traces, layout, {staticPlot:true, displayModeBar:false});
</script>
</body></html>
